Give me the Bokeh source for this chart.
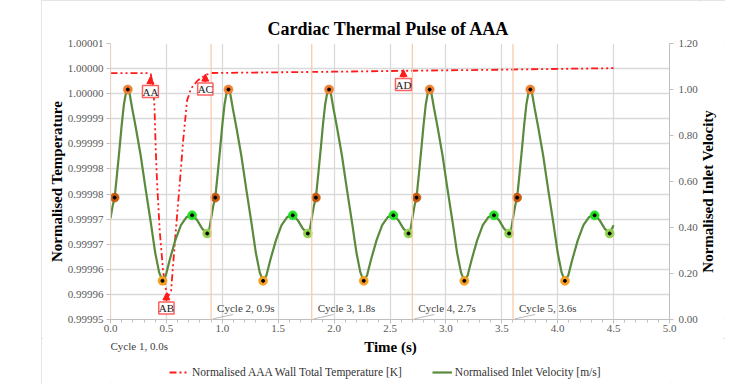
import math
from bokeh.plotting import figure
from bokeh.layouts import column, row
from bokeh.models import (Range1d, LinearAxis, FixedTicker, SingleIntervalTicker, Spacer,
                          NumeralTickFormatter, Label, Legend, LegendItem, Span, Arrow, NormalHead)
from bokeh.embed import file_html
from bokeh.resources import INLINE

# ---------------- data ----------------
title_text = "Cardiac Thermal Pulse of AAA"
x_label = "Time (s)"
temp_axis_label = "Normalised Temperature"
vel_axis_label = "Normalised Inlet Velocity"
temp_series_name = "Normalised AAA Wall Total Temperature [K]"
vel_series_name = "Normalised Inlet Velocity [m/s]"

temp_ticks = [0.999950, 0.999955, 0.999960, 0.999965, 0.999970, 0.999975,
              0.999980, 0.999985, 0.999990, 0.999995, 1.000000, 1.000005]
temp_tick_labels = ["0.99995", "0.99996", "0.99996", "0.99997", "0.99997", "0.99998",
                    "0.99998", "0.99999", "0.99999", "1.00000", "1.00000", "1.00001"]
vel_ticks = [0.0, 0.2, 0.4, 0.6, 0.8, 1.0, 1.2]

# Wall temperature (normalised)
temp_t = [0.000, 0.340, 0.360, 0.380, 0.393, 0.405, 0.417, 0.440, 0.470, 0.497,
          0.515, 0.542, 0.580, 0.620, 0.650, 0.685, 0.720, 0.780, 0.850, 0.900,
          1.500, 2.000, 2.500, 3.000, 3.500, 4.000, 4.500]
temp_v = [0.99999908, 0.99999908, 0.99999892, 0.99999663, 0.99999264, 0.99998368,
          0.99997710, 0.99996774, 0.99995976, 0.99995578, 0.99995458, 0.99995578,
          0.99996654, 0.99997730, 0.99998567, 0.99999364, 0.99999603, 0.99999763,
          0.99999872, 0.99999912, 0.99999926, 0.99999938, 0.99999952, 0.99999966,
          0.99999978, 0.99999994, 1.00000008]

# Inlet velocity (normalised)
vel_t = [0.000, 0.020, 0.037, 0.060, 0.080, 0.100, 0.120, 0.140, 0.155, 0.170, 0.195, 0.225, 0.270, 0.314,
         0.360, 0.400, 0.435, 0.465, 0.495, 0.530, 0.580, 0.630, 0.680, 0.730, 0.775, 0.820, 0.865, 0.885,
         0.900, 0.920, 0.937, 0.960, 0.980, 1.000, 1.020, 1.040, 1.055, 1.070, 1.095, 1.125, 1.170, 1.214,
         1.260, 1.300, 1.335, 1.365, 1.395, 1.430, 1.480, 1.530, 1.580, 1.630, 1.675, 1.720, 1.765, 1.785,
         1.800, 1.820, 1.837, 1.860, 1.880, 1.900, 1.920, 1.940, 1.955, 1.970, 1.995, 2.025, 2.070, 2.114,
         2.160, 2.200, 2.235, 2.265, 2.295, 2.330, 2.380, 2.430, 2.480, 2.530, 2.575, 2.620, 2.665, 2.685,
         2.700, 2.720, 2.737, 2.760, 2.780, 2.800, 2.820, 2.840, 2.855, 2.870, 2.895, 2.925, 2.970, 3.014,
         3.060, 3.100, 3.135, 3.165, 3.195, 3.230, 3.280, 3.330, 3.380, 3.430, 3.475, 3.520, 3.565, 3.585,
         3.600, 3.620, 3.637, 3.660, 3.680, 3.700, 3.720, 3.740, 3.755, 3.770, 3.795, 3.825, 3.870, 3.914,
         3.960, 4.000, 4.035, 4.065, 4.095, 4.130, 4.180, 4.230, 4.280, 4.330, 4.375, 4.420, 4.465, 4.485,
         4.500]
vel_v = [0.440, 0.496, 0.530, 0.640, 0.740, 0.845, 0.935, 0.990, 1.000, 0.985, 0.915, 0.838, 0.713, 0.568,
         0.423, 0.290, 0.205, 0.168, 0.192, 0.260, 0.345, 0.410, 0.445, 0.453, 0.432, 0.395, 0.374, 0.395,
         0.440, 0.496, 0.530, 0.640, 0.740, 0.845, 0.935, 0.990, 1.000, 0.985, 0.915, 0.838, 0.713, 0.568,
         0.423, 0.290, 0.205, 0.168, 0.192, 0.260, 0.345, 0.410, 0.445, 0.453, 0.432, 0.395, 0.374, 0.395,
         0.440, 0.496, 0.530, 0.640, 0.740, 0.845, 0.935, 0.990, 1.000, 0.985, 0.915, 0.838, 0.713, 0.568,
         0.423, 0.290, 0.205, 0.168, 0.192, 0.260, 0.345, 0.410, 0.445, 0.453, 0.432, 0.395, 0.374, 0.395,
         0.440, 0.496, 0.530, 0.640, 0.740, 0.845, 0.935, 0.990, 1.000, 0.985, 0.915, 0.838, 0.713, 0.568,
         0.423, 0.290, 0.205, 0.168, 0.192, 0.260, 0.345, 0.410, 0.445, 0.453, 0.432, 0.395, 0.374, 0.395,
         0.440, 0.496, 0.530, 0.640, 0.740, 0.845, 0.935, 0.990, 1.000, 0.985, 0.915, 0.838, 0.713, 0.568,
         0.423, 0.290, 0.205, 0.168, 0.192, 0.260, 0.345, 0.410, 0.445, 0.453, 0.432, 0.395, 0.374, 0.395,
         0.410]

# marked points on the velocity curve
rise_t = [0.037, 0.937, 1.837, 2.737, 3.637]
rise_v = [0.530, 0.530, 0.530, 0.530, 0.530]
peak_t = [0.155, 1.055, 1.955, 2.855, 3.755]
peak_v = [1.000, 1.000, 1.000, 1.000, 1.000]
trough_t = [0.465, 1.365, 2.265, 3.165, 4.065]
trough_v = [0.168, 0.168, 0.168, 0.168, 0.168]
second_peak_t = [0.730, 1.630, 2.530, 3.430, 4.330]
second_peak_v = [0.453, 0.453, 0.453, 0.453, 0.453]
notch_t = [0.865, 1.765, 2.665, 3.565, 4.465]
notch_v = [0.374, 0.374, 0.374, 0.374, 0.374]

# cardiac cycles
cycle_starts = [0.0, 0.9, 1.8, 2.7, 3.6]
cycle_labels = ["Cycle 1, 0.0s", "Cycle 2, 0.9s", "Cycle 3, 1.8s", "Cycle 4, 2.7s", "Cycle 5, 3.6s"]

# call-outs on the temperature curve
callout_text = ["AA", "AB", "AC", "AD"]
callout_t = [0.357, 0.500, 0.848, 2.620]
callout_v = [0.9999984, 0.9999553, 0.9999989, 0.9999998]

# ---------------- styling ----------------
SERIF = "Liberation Serif"
RED = "#ff1a1a"
GREEN = "#5a8a3c"
GRID = "#d9d9d9"
AXIS = "#bfbfbf"
TICK_TXT = "#595959"
DASH_DOT_DOT = "7 3 2 3 2 3"

X0, X1 = 0.0, 5.0
T0, T1 = 0.99995, 1.000005
V0, V1 = 0.0, 1.2
FRAME_W, FRAME_H = 560, 276
PAD_LEFT = 41
W = 684                 # whole chart block width
MAIN_H = 338
LEFT = 69
MAIN_RIGHT = 30
SIDE_W = W - LEFT - FRAME_W - MAIN_RIGHT   # strip holding the right-hand axis title
TOP = 43

x_range = Range1d(X0, X1)
p = figure(width=W - SIDE_W, height=MAIN_H,
           output_backend="svg", toolbar_location=None,
           x_range=x_range, y_range=Range1d(T0, T1),
           min_border_left=LEFT, min_border_right=MAIN_RIGHT, min_border_top=TOP,
           min_border_bottom=MAIN_H - TOP - FRAME_H,
           y_axis_label=temp_axis_label)
p.outline_line_color = None
p.background_fill_color = "white"
p.border_fill_color = "white"

p.title.text = title_text
p.title.align = "left"
p.title.offset = 157
p.title.text_font = SERIF
p.title.text_font_size = "18px"
p.title.text_font_style = "bold"
p.title.text_color = "black"

# x axis
p.xaxis.ticker = SingleIntervalTicker(interval=0.5, num_minor_ticks=5)
p.xaxis.formatter = NumeralTickFormatter(format="0.0")
p.xgrid.ticker = SingleIntervalTicker(interval=0.5)
# left axis
p.yaxis.ticker = FixedTicker(ticks=temp_ticks)
p.yaxis.major_label_overrides = dict(zip(temp_ticks, temp_tick_labels))
p.ygrid.ticker = FixedTicker(ticks=temp_ticks)

p.extra_y_ranges = {"vel": Range1d(V0, V1)}
raxis = LinearAxis(y_range_name="vel", ticker=FixedTicker(ticks=vel_ticks),
                   formatter=NumeralTickFormatter(format="0.00"))
p.add_layout(raxis, "right")

for ax in [p.xaxis[0], p.yaxis[0], raxis]:
    ax.major_label_text_font = SERIF
    ax.major_label_text_font_size = "11px"
    ax.major_label_text_color = TICK_TXT
    ax.axis_label_text_font = SERIF
    ax.axis_label_text_font_size = "15px"
    ax.axis_label_text_font_style = "bold"
    ax.axis_label_text_color = "black"
    ax.axis_line_color = AXIS
    ax.major_tick_line_color = AXIS
    ax.minor_tick_line_color = AXIS
    ax.major_tick_in = 0
    ax.major_tick_out = 4
    ax.minor_tick_in = 0
    ax.minor_tick_out = 3
    ax.major_label_standoff = 3
p.xaxis.major_label_standoff = 1
raxis.major_label_standoff = 5
p.yaxis[0].axis_label_standoff = 0
p.yaxis[0].axis_line_color = GRID

p.xgrid.grid_line_color = GRID
p.ygrid.grid_line_color = GRID
p.xgrid.grid_line_width = 1.3
p.ygrid.grid_line_width = 1.3

# cycle start lines
for c in cycle_starts:
    p.add_layout(Span(location=c, dimension="height", line_color="#f8cbad", line_width=1.3))

# temperature line
temp_r = p.line(temp_t, temp_v, line_color=RED, line_width=1.8, line_dash=DASH_DOT_DOT)

# velocity line and markers
vel_r = p.line(vel_t, vel_v, line_color=GREEN, line_width=2.2, y_range_name="vel")
for xs, ys, col in [(rise_t, rise_v, "#c55a11"), (peak_t, peak_v, "#f08030"),
                    (trough_t, trough_v, "#f5a021"), (second_peak_t, second_peak_v, "#22e022"),
                    (notch_t, notch_v, "#92d050")]:
    p.scatter(xs, ys, size=9, marker="circle", fill_color=col, line_color=col,
              line_alpha=0.6, y_range_name="vel")
    p.scatter(xs, ys, size=3, marker="circle", fill_color="black", line_color="black",
              y_range_name="vel")

# call-outs
dT = (T1 - T0) / FRAME_H
for txt, ct, cv in zip(callout_text, callout_t, callout_v):
    p.add_layout(Arrow(end=NormalHead(size=7, fill_color=RED, line_color=RED),
                       x_start=ct, y_start=cv - 8 * dT, x_end=ct, y_end=cv,
                       line_color=RED, line_width=1.5))
    p.add_layout(Label(x=ct, y=cv, y_offset=-15, text=txt, text_align="center",
                       text_baseline="middle", text_font=SERIF, text_font_size="11px",
                       text_color="#222222", background_fill_color="white",
                       border_line_color="#ff6060", border_line_width=1.5))

# cycle labels (2..5 inside the plot area) with leader lines
dx = (X1 - X0) / FRAME_W
dv = (V1 - V0) / FRAME_H
for c, lab in list(zip(cycle_starts, cycle_labels))[1:]:
    p.add_layout(Arrow(end=None, x_start=c + 2 * dx, y_start=V0 + 0.7 * dv,
                       x_end=c + 22 * dx, y_end=V0 + 5 * dv,
                       line_color="#a6a6a6", line_width=0.8, y_range_name="vel"))
    p.add_layout(Label(x=c, y=V0 + 11.3 * dv, x_offset=6, text=lab, text_align="left",
                       text_baseline="middle", text_font=SERIF, text_font_size="11px",
                       text_color="#404040", y_range_name="vel"))

# ---------------- right strip: secondary axis title (reads bottom-to-top) ----------------
pr = figure(width=SIDE_W, height=MAIN_H, output_backend="svg", toolbar_location=None,
            x_range=Range1d(0, SIDE_W), y_range=Range1d(0, MAIN_H),
            min_border_left=0, min_border_right=0, min_border_top=0, min_border_bottom=0,
            x_axis_location=None, y_axis_location=None)
pr.outline_line_color = None
pr.grid.visible = False
pr.background_fill_color = "white"
pr.border_fill_color = "white"
pr.add_layout(Label(x=7, y=MAIN_H - TOP - FRAME_H / 2, angle=math.pi / 2, text=vel_axis_label,
                    text_align="center", text_baseline="middle", text_font=SERIF,
                    text_font_size="15px", text_font_style="bold", text_color="black"))

# ---------------- lower strip: axis title, first cycle label, legend ----------------
STRIP_H = 46
p2 = figure(width=W, height=STRIP_H, output_backend="svg", toolbar_location=None,
            x_range=x_range, y_range=Range1d(0, STRIP_H),
            min_border_left=LEFT, min_border_right=W - LEFT - FRAME_W,
            min_border_top=0, min_border_bottom=0,
            x_axis_location=None, y_axis_location=None)
p2.outline_line_color = None
p2.grid.visible = False
p2.background_fill_color = "white"
p2.border_fill_color = "white"

p2.add_layout(Label(x=(X0 + X1) / 2, y=STRIP_H - 8, text=x_label, text_align="center",
                    text_baseline="middle", text_font=SERIF, text_font_size="15px",
                    text_font_style="bold", text_color="black"))
p2.add_layout(Label(x=cycle_starts[0], y=STRIP_H - 7, text=cycle_labels[0], text_align="left",
                    text_baseline="middle", text_font=SERIF, text_font_size="11px",
                    text_color="#404040"))

# legend swatches (kept below the strip's visible range, only their legend glyphs show)
leg_temp = p2.line([X0, X1], [-10, -10], line_color=RED, line_width=1.8, line_dash=DASH_DOT_DOT)
leg_vel = p2.line([X0, X1], [-10, -10], line_color=GREEN, line_width=2.2)
legend = Legend(items=[LegendItem(label=temp_series_name, renderers=[leg_temp]),
                       LegendItem(label=vel_series_name, renderers=[leg_vel])],
                orientation="horizontal", location=(59, 5),
                label_text_font=SERIF, label_text_font_size="11.5px", label_text_color="#333333",
                border_line_color=None, background_fill_alpha=0,
                spacing=30, glyph_width=20, glyph_height=14, label_height=14,
                label_standoff=3, margin=0, padding=2)
p2.add_layout(legend)

chart = column(row(p, pr, spacing=0), p2, spacing=0,
               styles={"outline": "2px solid #dcdcdc", "outline-offset": "-2px"})
layout = row(Spacer(width=PAD_LEFT, height=MAIN_H + STRIP_H), chart, spacing=0)
open("out.html", "w").write(file_html(layout, INLINE))
